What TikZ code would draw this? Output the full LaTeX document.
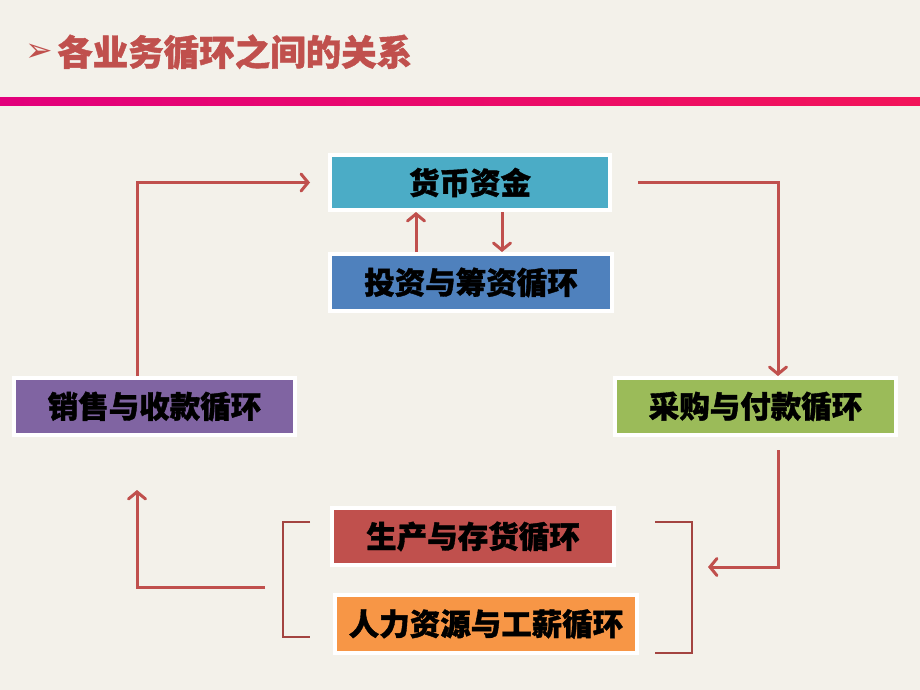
\documentclass[tikz,border=0pt]{standalone}
\usepackage{fontspec}
\newfontfamily\cjk{Noto Sans CJK SC}[BoldFeatures={FakeBold=1.2}]
\newfontfamily\sym{DejaVu Sans}
\usetikzlibrary{arrows.meta,shadows,calc}
\definecolor{bg}{HTML}{F3F1EA}
\definecolor{red1}{HTML}{C0504D}
\definecolor{teal1}{HTML}{4BACC6}
\definecolor{blue1}{HTML}{4F81BD}
\definecolor{purp1}{HTML}{8064A2}
\definecolor{green1}{HTML}{9BBB59}
\definecolor{orng1}{HTML}{F79646}
\definecolor{mag1}{HTML}{E2007C}
\definecolor{mag2}{HTML}{F2145A}
\tikzset{
  cyc/.style={draw=white, line width=4pt, inner sep=0pt,
    drop shadow={shadow xshift=1.5pt, shadow yshift=-2pt, opacity=0.35},
    font=\cjk\bfseries\fontsize{30.5}{30.5}\selectfont, text=black},
  arr/.style={draw=red1, line width=3pt, -{Straight Barb[length=7pt,width=17pt,line cap=round]}},
  brk/.style={draw=red1!85!black, line width=2pt}
}
\begin{document}
\begin{tikzpicture}[x=1pt,y=-1pt]
\fill[bg] (0,0) rectangle (920,690);
\useasboundingbox (0,0) rectangle (920,690);
% title
\node[anchor=west, text=red1, font=\sym\fontsize{33}{33}\selectfont, inner sep=0pt] (bullet) at (25,53) {➢};
\node[anchor=west, text=red1, font=\cjk\bfseries\fontsize{35.5}{35.5}\selectfont, inner sep=0pt] (title) at (57,52) {各业务循环之间的关系};
\shade[left color=mag1, right color=mag2] (0,98) rectangle (920,106);
% boxes
\node[cyc, fill=teal1, minimum width=280pt, minimum height=55pt] (money) at (470,182.5) {货币资金};
\node[cyc, fill=blue1, minimum width=282pt, minimum height=57pt] (invest) at (471,282.5) {投资与筹资循环};
\node[cyc, fill=purp1, minimum width=281pt, minimum height=57pt] (sales) at (154.5,406.5) {销售与收款循环};
\node[cyc, fill=green1, minimum width=281pt, minimum height=57pt] (purchase) at (755.5,406.5) {采购与付款循环};
\node[cyc, fill=red1, minimum width=282pt, minimum height=57pt] (prod) at (473,536.5) {生产与存货循环};
\node[cyc, fill=orng1, minimum width=302pt, minimum height=58pt] (hr) at (486,624) {人力资源与工薪循环};
% brackets
\coordinate (lb1) at (310,522);
\coordinate (lb2) at (283,522);
\coordinate (lb3) at (283,637);
\coordinate (lb4) at (310,637);
\coordinate (rb1) at (655,522);
\coordinate (rb2) at (692,522);
\coordinate (rb3) at (692,653);
\coordinate (rb4) at (655,653);
\draw[brk] (lb1) -- (lb2) -- (lb3) -- (lb4);
\draw[brk] (rb1) -- (rb2) -- (rb3) -- (rb4);
\coordinate (lbout) at (265,587);
\coordinate (rbin) at (708,567);
% connectors
\draw[arr] ([xshift=-17.5pt]sales.north) |- ([xshift=-18pt]money.west);
\draw[arr] ([xshift=26pt]money.east) -| ([xshift=22.5pt]purchase.north);
\draw[arr] ([xshift=22.5pt,yshift=-13pt]purchase.south) |- (rbin);
\draw[arr] (lbout) -| ([xshift=-17.5pt,yshift=-53pt]sales.south);
\draw[arr] ([xshift=-55pt]invest.north) -- ([xshift=-54pt]money.south);
\draw[arr] ([xshift=32pt]money.south) -- ([xshift=31pt]invest.north);
\end{tikzpicture}
\end{document}
